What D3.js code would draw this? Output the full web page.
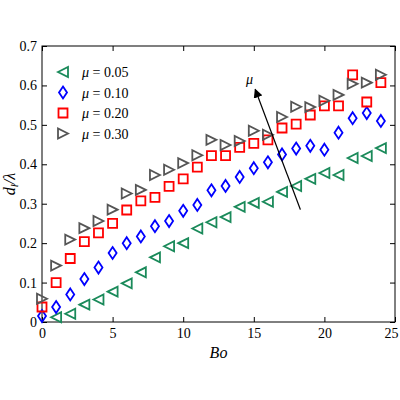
<!DOCTYPE html><html><head><script src="https://cdn.jsdelivr.net/npm/d3@7"></script>
<style>body{margin:0;background:#fff}text{font-family:"Liberation Serif",serif}</style></head><body><script>
const xs=d3.range(25);
const green=[null,0.012,0.021,0.044,0.057,0.077,0.098,0.126,0.164,0.192,0.2,0.237,0.253,0.266,0.292,0.302,0.305,0.33,0.345,0.363,0.378,0.373,0.416,0.421,0.441];
const blue=[0.015,0.038,0.07,0.109,0.138,0.175,0.2,0.217,0.243,0.256,0.282,0.297,0.334,0.345,0.368,0.39,0.405,0.425,0.44,0.447,0.437,0.48,0.517,0.53,0.51];
const red=[0.038,0.1,0.161,0.204,0.226,0.25,0.284,0.307,0.316,0.344,0.363,0.393,0.422,0.422,0.443,0.453,0.462,0.492,0.502,0.525,0.548,0.548,0.627,0.558,0.607];
const grey=[0.059,0.143,0.209,0.238,0.256,0.285,0.326,0.335,0.373,0.386,0.403,0.423,0.462,0.449,0.459,0.485,0.475,0.52,0.546,0.545,0.561,0.576,0.604,0.607,0.627];
const labels=["\u03bc = 0.05","\u03bc = 0.10","\u03bc = 0.20","\u03bc = 0.30"];
const xTicks=[0,5,10,15,20,25], yTicks=[0,0.1,0.2,0.3,0.4,0.5,0.6,0.7];
const L=42,R=395,T=46,B=322;
const x=d3.scaleLinear([0,25],[L,R]), y=d3.scaleLinear([0,0.7],[B,T]);
const svg=d3.select("body").append("svg").attr("width",400).attr("height",400);
svg.append("rect").attr("x",L).attr("y",T).attr("width",R-L).attr("height",B-T).attr("fill","none").attr("stroke","#000").attr("stroke-width",1);
const ax=(g,a)=>{g.call(a);g.select(".domain").remove();g.selectAll("text").attr("font-size",14).attr("font-family","Liberation Serif");};
svg.append("g").attr("transform",`translate(0,${B})`).call(g=>{ax(g,d3.axisBottom(x).tickValues(xTicks).tickSize(-5).tickPadding(6));g.selectAll("text").filter(d=>d===25).attr("dx",-4);});
svg.append("g").attr("transform",`translate(0,${T})`).call(g=>ax(g,d3.axisTop(x).tickValues(xTicks).tickSize(-5).tickFormat("")));
svg.append("g").attr("transform",`translate(${L},0)`).call(g=>ax(g,d3.axisLeft(y).tickValues(yTicks).tickSize(-5).tickPadding(5).tickFormat(d=>d===0?"0":d3.format(".1f")(d))));
svg.append("g").attr("transform",`translate(${R},0)`).call(g=>ax(g,d3.axisRight(y).tickValues(yTicks).tickSize(-5).tickFormat("")));
const tri=(dir)=>{const s=5;return dir<0?`M${-s},0L${s},${-s}L${s},${s}Z`:`M${s},0L${-s},${-s}L${-s},${s}Z`;};
const shapes=[
 {d:green,c:"#1a8a5a",p:tri(-1)},
 {d:blue,c:"#0000ff",p:"M0,-6L4,0L0,6L-4,0Z"},
 {d:red,c:"#ff0000",p:"M-4.5,-4.5H4.5V4.5H-4.5Z"},
 {d:grey,c:"#555555",p:tri(1)}];
const plot=svg.append("g");
shapes.forEach(s=>{
 plot.selectAll(null).data(xs.filter(i=>s.d[i]!=null)).join("path")
  .attr("d",s.p).attr("transform",i=>`translate(${x(i)},${y(s.d[i])})`)
  .attr("fill","none").attr("stroke",s.c).attr("stroke-width",1.8);
});
shapes.forEach((s,k)=>{
 const yy=72+k*20.5;
 svg.append("path").attr("d",s.p).attr("transform",`translate(63,${yy})`).attr("fill","none").attr("stroke",s.c).attr("stroke-width",1.8);
 const t=svg.append("text").attr("x",82).attr("y",yy+5).attr("font-size",14);
 t.append("tspan").attr("font-style","italic").text("\u03bc");
 t.append("tspan").text(labels[k].slice(1));
});
svg.append("defs").append("marker").attr("id","ah").attr("viewBox","0 0 10 10").attr("refX",9).attr("refY",5).attr("markerWidth",7).attr("markerHeight",7).attr("orient","auto")
 .append("path").attr("d","M0,0L10,5L0,10Z").attr("fill","#000");
svg.append("line").attr("x1",x(18.3)).attr("y1",y(0.285)).attr("x2",x(15.1)).attr("y2",y(0.59)).attr("stroke","#000").attr("stroke-width",1.3).attr("marker-end","url(#ah)");
svg.append("text").attr("x",246).attr("y",84).attr("font-size",14).attr("font-style","italic").text("\u03bc");
svg.append("text").attr("x",(L+R)/2).attr("y",358).attr("text-anchor","middle").attr("font-size",16).attr("font-style","italic").text("Bo");
const yl=svg.append("text").attr("transform",`translate(15,${(T+B)/2}) rotate(-90)`).attr("text-anchor","middle").attr("font-size",16).attr("font-style","italic");
yl.append("tspan").text("d");yl.append("tspan").attr("font-size",11).attr("dy",3).text("l");yl.append("tspan").attr("dy",-3).text("/\u03bb");
</script></body></html>
